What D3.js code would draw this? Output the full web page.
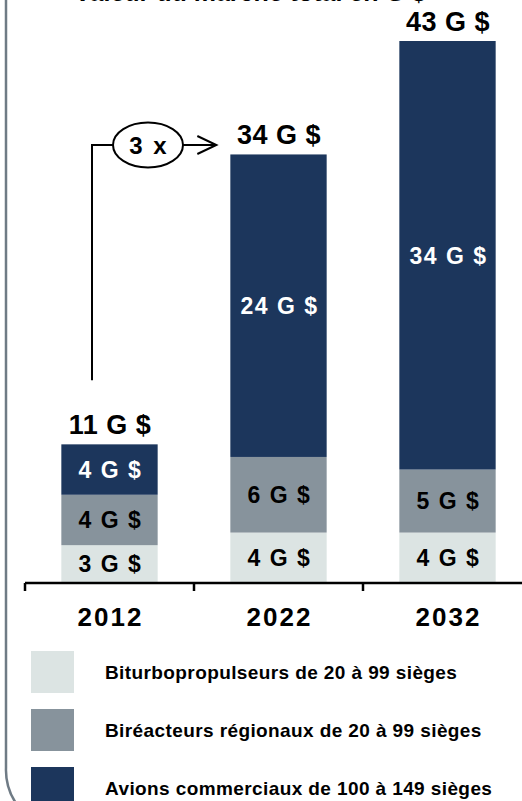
<!DOCTYPE html>
<html>
<head>
<meta charset="utf-8">
<script src="https://cdn.jsdelivr.net/npm/d3@7"></script>
<style>
  html, body { margin: 0; padding: 0; background: #ffffff; }
  svg { display: block; font-family: "Liberation Sans", Arial, sans-serif; font-weight: bold; }
</style>
</head>
<body>
<div id="chart"></div>
<script>
// ---- data ----
const years = ["2012", "2022", "2032"];
const turboprops = [3, 4, 4];          // Biturbopropulseurs de 20 à 99 sièges
const regionalJets = [4, 6, 5];        // Biréacteurs régionaux de 20 à 99 sièges
const commercialJets = [4, 24, 34];    // Avions commerciaux de 100 à 149 sièges
const totals = [11, 34, 43];
const seriesNames = [
  "Biturbopropulseurs de 20 à 99 sièges",
  "Biréacteurs régionaux de 20 à 99 sièges",
  "Avions commerciaux de 100 à 149 sièges"
];
const seriesColors = ["#dce4e3", "#87939c", "#1c365c"];
const labelColors = ["#000000", "#000000", "#ffffff"];
const growthLabel = "3 x";
const titleText = "Valeur du marché total en G $";
const unit = " G $";

const W = 522, H = 801;
const svg = d3.select("#chart").append("svg").attr("width", W).attr("height", H);

// table for stacking
const table = years.map((y, i) => ({ year: y, s0: turboprops[i], s1: regionalJets[i], s2: commercialJets[i] }));
const keys = ["s0", "s1", "s2"];
const stacked = d3.stack().keys(keys)(table);

const x = d3.scaleBand().domain(years).range([25, 532]).padding(0);
const y = d3.scaleLinear().domain([0, 43]).range([583, 41]);
const barW = x.bandwidth() * 0.57;

// frame (left border with rounded corner)
svg.append("path")
  .attr("d", "M6,-2 L6,768 A60,60 0 0 0 18,806")
  .attr("fill", "none").attr("stroke", "#6f7b85").attr("stroke-width", 2.5);

// clipped title (cut off at the top edge, as in the reference)
svg.append("text").attr("x", 250).attr("y", 1.2).attr("text-anchor", "middle")
  .attr("font-size", 25).attr("fill", "#000").text(titleText);

// bars
const layers = svg.append("g").selectAll("g").data(stacked).join("g")
  .attr("fill", (d, i) => seriesColors[i]);
layers.selectAll("rect").data(d => d).join("rect")
  .attr("x", d => x(d.data.year) + (x.bandwidth() - barW) / 2)
  .attr("width", barW)
  .attr("y", d => y(d[1]))
  .attr("height", d => y(d[0]) - y(d[1]));

// segment labels
stacked.forEach((layer, li) => {
  svg.append("g").selectAll("text").data(layer).join("text")
    .attr("x", d => x(d.data.year) + x.bandwidth() / 2 + 1)
    .attr("y", d => (y(d[0]) + y(d[1])) / 2)
    .attr("dy", "0.36em")
    .attr("text-anchor", "middle")
    .attr("font-size", 23)
    .style("letter-spacing", "1.5px")
    .attr("fill", labelColors[li])
    .text(d => d.data[layer.key] + unit);
});

// totals
svg.append("g").selectAll("text").data(years).join("text")
  .attr("x", d => x(d) + x.bandwidth() / 2 + 0.5)
  .attr("y", (d, i) => y(totals[i]) - 10)
  .attr("text-anchor", "middle")
  .attr("font-size", 27)
  .style("letter-spacing", "0.5px")
  .attr("fill", "#000")
  .text((d, i) => totals[i] + unit);

// axis
const axisG = svg.append("g");
axisG.append("line").attr("x1", 25).attr("x2", W).attr("y1", 583).attr("y2", 583)
  .attr("stroke", "#000").attr("stroke-width", 2.5);
axisG.selectAll("line.tick").data(years).join("line").attr("class", "tick")
  .attr("x1", d => x(d)).attr("x2", d => x(d))
  .attr("y1", 583).attr("y2", 591)
  .attr("stroke", "#000").attr("stroke-width", 2.5);
axisG.selectAll("text").data(years).join("text")
  .attr("x", d => x(d) + x.bandwidth() / 2 + 1)
  .attr("y", 626)
  .attr("text-anchor", "middle")
  .attr("font-size", 26)
  .style("letter-spacing", "2px")
  .attr("fill", "#000")
  .text(d => d);

// growth annotation
const ann = svg.append("g").attr("fill", "none").attr("stroke", "#000").attr("stroke-width", 2);
const ax = 92, ay = 145, ecx = 148, erx = 35, ery = 22.5;
const tipX = x("2022") + (x.bandwidth() - barW) / 2 - 14;
ann.append("path").attr("d", `M${ax},${y(totals[0]) - 64} L${ax},${ay} L${ecx - erx},${ay}`);
ann.append("ellipse").attr("cx", ecx).attr("cy", ay).attr("rx", erx).attr("ry", ery);
ann.append("path").attr("d", `M${ecx + erx},${ay} L${tipX},${ay} M${tipX - 19},${ay - 9} L${tipX},${ay} L${tipX - 19},${ay + 9}`);
svg.append("text").attr("x", ecx + 1).attr("y", ay).attr("dy", "0.36em")
  .attr("text-anchor", "middle").attr("font-size", 24).style("letter-spacing", "2px")
  .attr("fill", "#000").text(growthLabel);

// legend
const legend = svg.append("g").selectAll("g").data(seriesNames).join("g")
  .attr("transform", (d, i) => `translate(31, ${651 + i * 58})`);
legend.append("rect").attr("width", 43).attr("height", 42)
  .attr("fill", (d, i) => seriesColors[i]);
legend.append("text").attr("x", 74).attr("y", 21).attr("dy", "0.36em")
  .attr("font-size", 19).style("letter-spacing", "0.4px").attr("fill", "#000")
  .text(d => d);
</script>
</body>
</html>
